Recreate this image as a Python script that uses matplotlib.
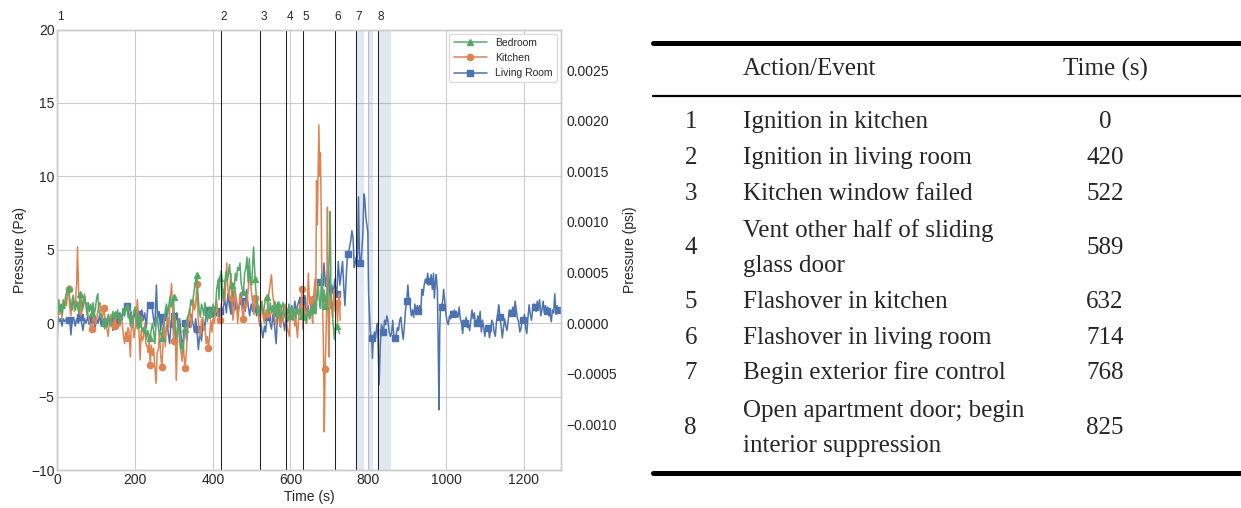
import matplotlib.pyplot as plt
from matplotlib.lines import Line2D
from matplotlib.ticker import MultipleLocator, FuncFormatter

# (time s, pressure Pa)
living = [(0, 0.1), (3, 0.4), (6, 0.1), (9, 0.3), (12, -0.2), (15, 0.3), (19, 0.1), (23, 0.3), (26, 0.2), (29, 0.2),
          (32, 0.25), (35, -0.8), (38, 0.1), (42, 0.4), (46, -0.2), (50, 0.3), (54, 0.0), (59, 0.4), (62, 0.1), (66, -0.5),
          (70, 0.3), (74, 0.0), (78, 0.45), (82, -0.1), (86, 0.2), (89, 0.2), (93, 0.5), (97, -0.4), (101, 0.3), (105, 0.0),
          (109, 0.6), (113, -0.2), (117, 0.3), (119, 0.1), (123, 0.4), (127, -0.3), (131, 0.5), (135, 0.0), (139, 0.3),
          (143, -0.5), (146, 0.4), (149, 0.2), (153, 0.6), (157, -0.2), (161, 0.7), (165, 0.1), (169, 1.0), (173, 0.5),
          (176, 1.15), (179, 1.15), (182, 1.1), (186, 0.2), (190, 0.8), (194, -0.3), (198, 0.9), (202, 0.3), (206, 0.0),
          (209, 0.6), (213, -0.2), (217, 0.9), (221, 0.2), (225, 0.7), (229, -0.3), (233, 1.2), (236, 1.25), (239, 1.25),
          (243, 1.3), (247, 0.4), (251, -0.2), (255, 2.6), (258, 0.3), (262, 0.8), (266, -0.5), (269, 0.4), (273, -0.2),
          (277, 0.3), (281, 0.9), (285, -0.6), (289, -1.4), (293, 0.2), (296, -0.3), (299, 0.5), (303, 0.1), (307, 0.7),
          (311, -0.4), (315, 0.3), (319, -1.0), (323, -1.7), (326, -0.5), (329, 0.0), (333, -1.2), (337, 0.4), (341, -0.3),
          (345, 0.6), (349, 0.0), (353, -0.6), (356, 0.3), (359, -0.4), (363, -1.8), (367, -0.6), (371, -1.2), (375, 0.2),
          (379, -0.5), (383, 0.8), (386, 0.9), (389, 0.9), (393, 0.3), (397, 1.0), (401, 0.4), (405, 1.1), (409, 0.5),
          (413, 0.9), (416, 0.3), (419, 0.8), (423, 0.5), (427, 1.1), (431, 1.6), (435, 0.7), (439, 2.0), (443, 1.2),
          (447, 0.6), (449, 1.4), (453, 1.8), (457, 0.9), (461, 1.5), (465, 0.7), (469, 1.3), (473, 2.1), (477, 1.0),
          (479, 1.5), (483, 0.8), (487, 2.3), (491, 1.2), (495, 0.5), (499, 1.3), (503, 0.8), (507, 1.4), (509, 1.0),
          (513, 0.5), (517, 1.2), (521, 0.6), (525, -0.3), (529, -1.0), (533, -0.2), (536, -0.6), (539, 0.4), (543, 0.9),
          (547, 0.1), (551, -0.4), (555, 0.6), (559, -0.2), (563, -1.4), (566, 0.3), (569, 0.7), (573, -0.2), (577, 0.9),
          (581, 0.2), (585, -0.5), (589, 0.6), (593, 0.1), (596, 1.0), (599, 0.6), (603, 1.2), (607, 0.3), (611, 1.5),
          (615, 0.8), (619, 1.3), (623, 1.6), (626, 1.6), (629, 1.6), (633, 0.8), (637, 1.9), (641, 0.5), (645, 1.2),
          (649, 0.3), (653, 0.9), (656, 1.8), (659, 1.2), (663, 2.2), (667, 1.5), (671, 2.5), (674, 2.8), (676, 2.8),
          (679, 2.9), (682, 2.2), (686, 4.1), (690, 2.5), (694, 3.4), (698, 3.6), (702, 1.8), (706, 2.6), (710, 2.0),
          (714, 3.0), (717, 2.0), (719, 2.0), (723, 4.2), (727, 2.6), (731, 3.5), (734, 4.2), (737, 2.5), (740, 1.2),
          (744, 3.5), (747, 4.7), (749, 4.7), (752, 5.2), (755, 5.6), (758, 6.3), (761, 5.8), (764, 3.8), (766, 4.0),
          (769, 4.5), (772, 4.1), (775, 8.6), (777, 5.0), (779, 4.1), (782, 4.3), (786, 6.0), (789, 8.8), (791, 8.5),
          (794, 7.2), (797, 6.6), (799, 6.2), (801, 2.0), (803, 0.9), (805, -0.5), (807, -0.9), (809, -1.0), (811, -2.4),
          (813, -1.0), (816, -0.6), (819, -1.0), (822, -0.2), (824, 0.0), (826, -2.2), (828, -4.2), (831, -1.5),
          (834, -0.1), (836, -0.3), (839, -0.6), (842, 0.2), (845, -0.1), (848, 0.5), (851, 0.1), (854, -0.6),
          (857, -0.9), (860, -0.7), (863, 0.2), (866, -0.9), (869, -1.0), (872, -0.8), (875, -0.3), (878, -0.5),
          (881, 0.2), (884, 0.4), (887, -0.5), (890, -1.1), (893, -0.2), (896, 0.9), (899, 1.5), (902, 2.6), (905, 1.5),
          (908, 1.2), (911, 0.5), (914, 0.9), (917, 0.4), (920, 1.3), (923, 0.7), (926, 1.2), (929, 0.8), (932, 1.2),
          (935, 0.6), (938, 2.3), (941, 1.9), (944, 2.6), (947, 3.0), (950, 2.7), (953, 3.4), (956, 2.6), (959, 2.9),
          (962, 3.3), (965, 2.3), (968, 3.4), (970, 1.7), (973, 2.8), (975, 3.3), (978, 2.2), (980, -1.5), (982, -5.9),
          (984, -0.5), (986, 1.2), (989, 1.1), (992, 1.6), (994, 2.3), (997, 1.5), (1000, 0.6), (1003, 0.1), (1006, -0.1),
          (1009, 0.5), (1012, 0.3), (1015, 0.8), (1019, 0.6), (1022, 0.9), (1025, 0.5), (1028, 0.7), (1031, 0.4),
          (1034, 1.1), (1037, 0.3), (1040, 0.0), (1043, -0.7), (1046, 0.2), (1049, 0.0), (1052, 0.4), (1055, -0.3),
          (1058, -0.1), (1061, -0.5), (1064, 0.2), (1067, 0.9), (1070, 0.3), (1073, 0.7), (1076, -0.1), (1079, 0.0),
          (1082, 0.5), (1085, 0.1), (1088, 0.8), (1091, -0.6), (1094, 0.2), (1097, -0.3), (1100, -0.9), (1103, -0.2),
          (1106, -0.5), (1109, -0.3), (1112, -1.0), (1115, -0.4), (1118, 0.2), (1121, 0.0), (1124, -0.6), (1127, -0.9),
          (1130, 0.1), (1133, 0.6), (1136, 1.25), (1139, 0.4), (1142, -0.2), (1145, -1.0), (1148, -0.3), (1151, 0.3),
          (1154, -0.2), (1157, -0.5), (1160, 0.2), (1163, 0.9), (1166, 0.6), (1169, 0.7), (1172, 1.1), (1175, 0.5),
          (1178, 1.5), (1181, 0.9), (1184, 0.3), (1187, 0.1), (1190, -0.6), (1193, -0.4), (1196, 0.3), (1199, 0.2),
          (1202, 0.6), (1205, -0.3), (1208, -0.7), (1211, 0.4), (1214, 1.25), (1217, 0.6), (1220, 0.2), (1223, 0.9),
          (1226, 1.3), (1229, 1.1), (1232, 0.8), (1235, 1.5), (1238, 1.0), (1241, 1.6), (1244, 0.5), (1247, 0.9),
          (1250, 1.5), (1253, 0.7), (1256, 1.2), (1259, 0.8), (1262, 1.1), (1265, 0.5), (1268, 0.6), (1271, 0.1),
          (1274, 0.9), (1277, 0.7), (1280, 2.0), (1283, 0.6), (1286, 1.2), (1289, 0.9)]

kitchen = [(0, 0.2), (3, 1.5), (6, 0.6), (9, 1.2), (12, 0.3), (15, 1.6), (18, 1.0), (21, 1.8), (24, 1.2), (26, 2.0),
           (29, 2.3), (32, 1.1), (35, 0.5), (38, 1.6), (41, 1.9), (44, 0.8), (47, 1.5), (50, 2.8), (52, 5.2), (55, 2.0),
           (59, 1.3), (61, 0.5), (64, 0.9), (67, 1.6), (70, 2.0), (73, 1.2), (76, 1.4), (79, 0.6), (82, 0.2), (85, -0.1),
           (89, -0.4), (92, 0.2), (95, 0.6), (98, -0.1), (101, 0.2), (104, 0.8), (107, 1.3), (110, 1.4), (113, 0.6),
           (116, 0.2), (119, 1.0), (122, 0.5), (125, -0.2), (128, -0.45), (131, -0.9), (134, 0.1), (137, 0.6), (140, 0.0),
           (143, -0.4), (146, 0.3), (149, -0.2), (152, 0.7), (155, 0.4), (158, 0.6), (161, -0.2), (164, 0.2), (167, 0.0),
           (170, -0.8), (173, -1.4), (176, -0.6), (179, -1.0), (182, -0.3), (185, -0.7), (188, -2.3), (191, 0.6),
           (194, 0.1), (197, -1.0), (200, -0.4), (203, 0.5), (206, 1.6), (209, 0.3), (213, -2.5), (216, -0.5),
           (219, -1.2), (222, -0.9), (225, 0.0), (228, -1.4), (231, -1.6), (234, -2.0), (236, -0.8), (239, -2.85),
           (242, -1.5), (245, -2.2), (248, -1.7), (251, -3.0), (254, -4.1), (257, -2.0), (260, -1.8), (263, -0.5),
           (266, -2.2), (269, -3.0), (272, -1.5), (275, 0.3), (278, -1.6), (281, -0.2), (284, 0.4), (287, -0.3),
           (290, 1.5), (294, 2.7), (297, 0.8), (299, -1.2), (303, 0.5), (306, -3.9), (309, -1.3), (312, 0.2),
           (315, -0.8), (318, -1.9), (321, -2.6), (324, -1.3), (326, -2.2), (329, -3.07), (332, -2.0), (335, -0.5),
           (338, 0.6), (341, 1.0), (344, -0.3), (347, 0.4), (350, 1.6), (353, 0.9), (356, 1.3), (359, 2.7), (362, 0.5),
           (365, -0.6), (368, -0.9), (371, 0.2), (374, 0.4), (377, -0.5), (380, -0.2), (383, -1.4), (386, -0.9),
           (389, -1.7), (392, -0.8), (395, 0.2), (398, -0.6), (401, 0.4), (404, 0.0), (407, 0.8), (410, 1.6), (413, 0.6),
           (416, 0.0), (419, 0.2), (422, 1.2), (425, 2.0), (428, 2.3), (431, 1.5), (434, 3.0), (436, 4.1), (439, 2.2),
           (442, 1.8), (445, 2.8), (447, 3.4), (449, 1.7), (452, 0.2), (455, 1.0), (458, 2.3), (461, 1.4), (464, 0.0),
           (467, 0.9), (470, 2.0), (473, 1.6), (476, 0.7), (479, 0.3), (482, 1.5), (485, 1.0), (488, 1.4), (491, 2.2),
           (494, 3.4), (497, 2.7), (500, 2.0), (503, 1.2), (506, 0.6), (509, 1.7), (512, 1.1), (515, 1.6), (518, 0.3),
           (521, -0.2), (524, 0.8), (527, 1.5), (530, 0.4), (533, 0.0), (536, 0.9), (539, 0.6), (542, 1.3), (545, 2.2),
           (548, 2.7), (551, 3.3), (554, 2.0), (557, 1.4), (560, 0.2), (563, -0.1), (566, 0.7), (569, 0.9), (572, 0.1),
           (575, -0.3), (578, 0.6), (581, 0.1), (584, 1.1), (587, 1.3), (590, 0.0), (593, -0.5), (597, -0.9), (599, 0.5),
           (602, 0.9), (605, 0.2), (608, 0.7), (611, -0.2), (614, 0.3), (618, -1.0), (621, 0.4), (624, 1.3), (626, 0.4),
           (629, 2.3), (632, -0.4), (635, 1.2), (638, 0.4), (641, 0.0), (644, 1.8), (646, 3.4), (649, 1.3), (652, 1.8),
           (655, 0.6), (657, 0.0), (659, 1.6), (663, 3.0), (665, 0.8), (667, 9.7), (669, 6.7), (671, 9.9), (673, 13.5),
           (675, 10.0), (677, 11.6), (679, 7.7), (681, 1.8), (683, 0.7), (685, -2.0), (687, -7.4), (689, -3.1),
           (691, -1.5), (693, 1.3), (695, 7.9), (697, 0.5), (699, -2.3), (701, 1.8), (703, 1.0), (706, 1.5), (709, 0.4),
           (712, 2.3), (715, 0.8), (719, 1.4), (721, 0.0), (724, 1.6), (726, 2.0), (728, 0.2)]

bedroom = [(0, -1.2), (2, 0.5), (4, 1.6), (7, 0.8), (10, 1.3), (13, 0.6), (16, 1.5), (19, 1.0), (22, 1.9), (25, 2.2),
           (29, 2.4), (32, 1.7), (35, 1.1), (38, 0.9), (41, 1.8), (44, 1.3), (47, 0.9), (50, 1.5), (53, 1.0), (56, 0.6),
           (59, 2.0), (62, 1.8), (65, 0.9), (68, 1.4), (71, 1.8), (74, 1.1), (77, 0.5), (80, 1.4), (83, 0.8), (86, 1.3),
           (89, 0.7), (92, 1.4), (95, 0.6), (98, 1.0), (101, 1.7), (104, 2.0), (107, 0.9), (110, 0.5), (113, 0.6),
           (116, 0.3), (119, 0.0), (122, -0.4), (125, 0.3), (128, 0.1), (131, 0.6), (134, 0.2), (137, -0.2), (140, 0.4),
           (143, 0.8), (146, 0.3), (149, 0.6), (152, 0.4), (155, 0.9), (158, 0.5), (161, 0.0), (164, 0.6), (167, 0.2),
           (170, 0.9), (173, 0.5), (176, 1.1), (179, 1.1), (182, 0.4), (185, 0.6), (188, -0.2), (191, 0.5), (194, 0.0),
           (197, 0.7), (200, 1.1), (203, 0.1), (206, -0.4), (209, 0.4), (212, -0.3), (215, 0.1), (218, -0.6),
           (221, -0.3), (224, -0.7), (227, -0.2), (230, -1.1), (233, -0.5), (236, -0.8), (239, -1.0), (242, -0.4),
           (245, 0.0), (248, -0.6), (251, -1.4), (254, -0.1), (257, 0.5), (260, -0.3), (263, -0.8), (266, -0.6),
           (269, -1.0), (272, -0.3), (275, 0.0), (278, 0.9), (281, 1.3), (284, 0.6), (287, 1.2), (290, 1.8), (293, 1.1),
           (296, 1.4), (299, 1.8), (302, 0.0), (305, -1.1), (308, -0.5), (311, 0.3), (314, -0.8), (317, -1.8),
           (320, -1.4), (323, -2.0), (326, -1.1), (329, -0.4), (332, 0.1), (335, 0.4), (338, 0.6), (341, 1.0),
           (344, 1.6), (347, 1.2), (350, 1.8), (353, 2.4), (356, 2.9), (359, 3.3), (362, 2.0), (365, 0.9), (368, 0.4),
           (371, 1.3), (374, 1.0), (377, 0.5), (380, 1.4), (383, 0.8), (386, 0.1), (389, 0.6), (392, 1.1), (395, 0.4),
           (398, 0.9), (401, 1.3), (404, 0.5), (407, 1.0), (410, 2.3), (414, 2.95), (416, 1.6), (419, 3.1), (422, 3.6),
           (425, 2.2), (428, 1.5), (431, 2.8), (434, 3.5), (437, 2.9), (440, 3.3), (443, 4.0), (446, 3.0), (449, 2.6),
           (452, 1.8), (455, 2.2), (458, 3.4), (461, 2.9), (464, 3.8), (467, 3.6), (470, 4.1), (473, 2.7), (476, 2.3),
           (479, 2.1), (482, 3.4), (485, 3.7), (488, 4.5), (491, 2.8), (494, 4.4), (497, 3.0), (500, 2.6), (503, 4.2),
           (505, 5.2), (509, 3.0), (512, 1.8), (515, 0.7), (518, 1.0), (521, 0.6), (524, 1.5), (527, 1.1), (530, 0.6),
           (533, 1.2), (536, 1.7), (539, 1.8), (542, 1.1), (545, 0.7), (548, 1.4), (551, 0.7), (554, 1.2), (557, 0.4),
           (560, 1.5), (563, 0.9), (566, 0.4), (569, 1.3), (572, 0.6), (575, 0.2), (578, 1.2), (581, 1.4), (584, 0.7),
           (587, 0.3), (590, 1.0), (593, 0.7), (596, 1.3), (599, 0.5), (602, 0.8), (605, 1.1), (608, 0.4), (611, 0.9),
           (614, 0.3), (617, 1.1), (620, 0.6), (623, 1.0), (626, 0.9), (629, 0.5), (632, 0.9), (635, 0.2), (638, 0.6),
           (641, 0.0), (644, 0.5), (647, 0.9), (650, 0.3), (653, 1.1), (656, 0.6), (659, 0.9), (662, 1.5), (665, 0.8),
           (668, 1.8), (671, 2.7), (674, 1.6), (677, 1.0), (680, 3.4), (683, 0.9), (686, 2.3), (689, 1.2), (692, 2.0),
           (695, 1.3), (698, 3.5), (700, 4.5), (702, 7.6), (704, 2.5), (706, 1.3), (708, 0.4), (711, -0.4), (713, -1.1),
           (716, -0.5), (719, -0.2), (722, -0.4), (726, -0.7)]

# times where the markers sit
room_marks = list(range(29, 720, 30))
living_marks = list(range(29, 660, 30)) + [676, 719, 749, 779] + list(range(809, 1290, 30))

event_num = ['1', '2', '3', '4', '5', '6', '7', '8']
event_time = [0, 420, 522, 589, 632, 714, 768, 825]
event_text = [['Ignition in kitchen'], ['Ignition in living room'], ['Kitchen window failed'],
              ['Vent other half of sliding', 'glass door'], ['Flashover in kitchen'],
              ['Flashover in living room'], ['Begin exterior fire control'],
              ['Open apartment door; begin', 'interior suppression']]
shaded = [(770, 789), (800, 812), (828, 858)]

PA_PER_PSI = 6894.757


def split(series, marks):
    t = [p[0] for p in series]
    v = [p[1] for p in series]
    idx = [i for i, x in enumerate(t) if x in marks]
    return t, v, idx


plt.style.use('seaborn-v0_8-whitegrid')
plt.rcParams['font.family'] = ['Liberation Sans', 'DejaVu Sans']

W, H = 1241, 508
fig = plt.figure(figsize=(W / 100, H / 100), dpi=100)
ax = fig.add_axes([57.3 / W, 1 - 470 / H, (561 - 57.3) / W, (470 - 29.5) / H])

for a, b in shaded:
    ax.axvspan(a, b, color='#4C72B0', alpha=0.16, lw=0, zorder=1)

lt, lv, li = split(living, living_marks)
kt, kv, ki = split(kitchen, room_marks)
bt, bv, bi = split(bedroom, room_marks)
h_liv, = ax.plot(lt, lv, color='#4C72B0', lw=1.1, marker='s', ms=5, markevery=li, label='Living Room', zorder=3)
h_kit, = ax.plot(kt, kv, color='#DD8452', lw=1.1, marker='o', ms=4.5, markevery=ki, label='Kitchen', zorder=4)
h_bed, = ax.plot(bt, bv, color='#55A868', lw=1.1, marker='^', ms=4.5, markevery=bi, label='Bedroom', zorder=5)

for num, t in zip(event_num, event_time):
    ax.axvline(t, color='#222222', lw=0.75, zorder=6)
    ax.text(t, 20.45, num, fontsize=8.5, ha='left', va='bottom', color='#262626')

ax.set_xlim(0, 1296)
ax.set_ylim(-10, 20)
ax.xaxis.set_major_locator(MultipleLocator(200))
ax.yaxis.set_major_locator(MultipleLocator(5))
ax.tick_params(labelsize=10, pad=2)
ax.set_xlabel('Time (s)', fontsize=10, labelpad=2)
ax.set_ylabel('Pressure (Pa)', fontsize=10, labelpad=3)
for s in ax.spines.values():
    s.set_color('#cccccc')

leg = ax.legend(handles=[h_bed, h_kit, h_liv], loc='upper right', fontsize=7.5, frameon=True,
                handlelength=3.2, borderaxespad=0.4, framealpha=1)
leg.get_frame().set_edgecolor('#dddddd')

ax2 = ax.twinx()
ax2.set_ylim(-10 / PA_PER_PSI, 20 / PA_PER_PSI)
ax2.grid(False)
ax2.yaxis.set_major_locator(MultipleLocator(0.0005))
ax2.yaxis.set_major_formatter(FuncFormatter(lambda v, p: f'{v:.4f}'.replace('-', '\u2212')))
ax2.tick_params(labelsize=10, pad=4)
ax2.set_ylabel('Pressure (psi)', fontsize=10, labelpad=4)
for s in ax2.spines.values():
    s.set_color('#cccccc')

# event table on the right
serif = ['Liberation Serif', 'DejaVu Serif']
fs = 18
x0, x1 = 653 / W, 1.0
fig.add_artist(Line2D([x0, x1], [1 - 42.7 / H] * 2, color='k', lw=3.6))
fig.add_artist(Line2D([x0, x1], [1 - 95.7 / H] * 2, color='k', lw=1.6))
fig.add_artist(Line2D([x0, x1], [1 - 473 / H] * 2, color='k', lw=3.6))
fig.text(742.7 / W, 1 - 69 / H, 'Action/Event', family=serif, fontsize=fs, va='center', ha='left')
fig.text(1105 / W, 1 - 69 / H, 'Time (s)', family=serif, fontsize=fs, va='center', ha='center')

row_y = [121.7, 158, 194, 248, 301.7, 338, 373, 428.5]
for num, lines, t, y in zip(event_num, event_text, event_time, row_y):
    fig.text(690.7 / W, 1 - y / H, num, family=serif, fontsize=fs, va='center', ha='center')
    fig.text(1105 / W, 1 - y / H, str(t), family=serif, fontsize=fs, va='center', ha='center')
    if len(lines) == 1:
        fig.text(742.7 / W, 1 - y / H, lines[0], family=serif, fontsize=fs, va='center', ha='left')
    else:
        fig.text(742.7 / W, 1 - (y - 17.8) / H, lines[0], family=serif, fontsize=fs, va='center', ha='left')
        fig.text(742.7 / W, 1 - (y + 17.8) / H, lines[1], family=serif, fontsize=fs, va='center', ha='left')

fig.savefig('out.png', dpi=100)
